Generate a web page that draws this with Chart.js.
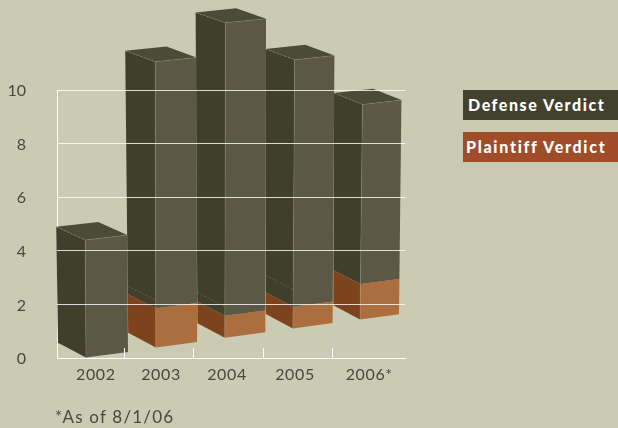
<!DOCTYPE html>
<html>
<head>
<meta charset="utf-8">
<title>Verdicts</title>
<script src="https://cdn.jsdelivr.net/npm/chart.js@4/dist/chart.umd.min.js"></script>
<style>
  html, body { margin: 0; padding: 0; background: #cbcbb3; }
  #wrap { position: relative; width: 618px; height: 428px; overflow: hidden; font-family: Lato, sans-serif; }
  #myChart { position: absolute; left: 0; top: 0; }
  .legend-item {
    position: absolute; left: 463px; width: 155px; height: 30px; line-height: 30px;
    box-sizing: border-box; color: #fff; font-weight: 900; font-size: 16px; white-space: nowrap;
  }
  #note { position: absolute; left: 55px; top: 406px; font-size: 17px; letter-spacing: 1.2px; color: #4a4740; white-space: nowrap; }
</style>
</head>
<body>
<div id="wrap">
  <canvas id="myChart" width="618" height="428"></canvas>
  <div id="legend"></div>
  <div id="note">*As of 8/1/06</div>
</div>
<script>
const years = ["2002", "2003", "2004", "2005", "2006*"];
const yTicks = [0, 2, 4, 6, 8, 10];
const plaintiffVerdicts = [0, 1.48, 0.84, 0.83, 1.34];
const defenseVerdicts = [4.4, 9.2, 10.93, 9.21, 6.7];

const legendColors = ["#42412d", "#a04c28"];
const legendTops = [90, 132];
const legendInsets = [5, 3];
const legendSpacing = ["1.55px", "1.7px"];

// faces: front (lit), side (shaded), top
const faces = [
    { front: "#ab6e3e", side: "#7c431d", top: "#7c431d" },
    { front: "#5b5945", side: "#403f2b", top: "#4c4b36" }
];

// the fake perspective: each year sits further back and a bit higher
function floorLift(i) { return 10.3 * i - 0.2 * i * i; }
function frontShift(i) { return 5.8 - 0.7 * i + 0.45 * i * i; }
function rightWidth(i) { return 42 - 0.75 * i; }
function leftWidth(i, y) { return 28 + (358 - y) * 0.008 - 0.4 * i; }
function leftRise(y) { return 10 + y * 0.0135; }
function rightRise(y) { return 4 + y * 0.004; }
// bars on the left lean left going up, bars on the right lean right
function lean(i, height) { return height * (i - 1.5) * 0.0045; }

const seamGap = [0, 8, 9, 17, 0];
const labelNudge = [4, -0.4, -4, -5.6, -1];

function poly(ctx, pts, color) {
    ctx.beginPath();
    pts.forEach(function (p, n) {
        if (n === 0) ctx.moveTo(p[0], p[1]); else ctx.lineTo(p[0], p[1]);
    });
    ctx.closePath();
    ctx.fillStyle = color;
    ctx.fill();
}

function edge(ctx, a, b, color, dash) {
    ctx.save();
    ctx.strokeStyle = color;
    ctx.lineWidth = 1;
    ctx.setLineDash(dash || []);
    ctx.beginPath();
    ctx.moveTo(a[0], a[1]);
    ctx.lineTo(b[0], b[1]);
    ctx.stroke();
    ctx.restore();
}

function drawBlock(ctx, el, i, face, isTop, floor) {
    const x = el.x - frontShift(i);
    const lift = floorLift(i);
    const yTop = el.y - lift;
    const yBot = el.base - lift;
    if (yBot - yTop < 0.5) return;

    const xTop = x + lean(i, floor - el.y);
    const xBot = x + lean(i, floor - el.base);
    const r = rightWidth(i);
    const fTop = [xTop, yTop], fBot = [xBot, yBot];
    const lTop = [xTop - leftWidth(i, yTop), yTop - leftRise(yTop)];
    const lBot = [xBot - leftWidth(i, yBot), yBot - leftRise(yBot)];
    const rTop = [xTop + r, yTop - rightRise(yTop)];
    const rBot = [xBot + r, yBot - rightRise(yBot)];

    poly(ctx, [lTop, fTop, fBot, lBot], face.side);
    poly(ctx, [fTop, rTop, rBot, fBot], face.front);
    edge(ctx, fTop, fBot, "rgba(255,255,255,0.12)");

    if (isTop) {
        const back = [lTop[0] + rTop[0] - xTop, lTop[1] + rTop[1] - yTop];
        poly(ctx, [lTop, back, rTop, fTop], face.top);
        edge(ctx, lTop, fTop, "rgba(255,255,255,0.16)", [2, 2]);
        edge(ctx, fTop, rTop, "rgba(255,255,255,0.1)");

        // thin seam a little above the plaintiff block, on the shaded side
        const gap = seamGap[i];
        if (gap) {
            edge(ctx, [lBot[0], lBot[1] - gap], [xBot, yBot - gap], "rgba(255,255,255,0.16)", [2, 2]);
        }
    }
}

const blocksPlugin = {
    id: "blocks",
    beforeDatasetsDraw: function (chart) {
        const ctx = chart.ctx;
        const area = chart.chartArea;
        ctx.save();
        // y axis line goes under the blocks, the 2002 block hides part of it
        edge(ctx, [area.left + 0.5, area.top], [area.left + 0.5, area.bottom], "#fff");
        for (let i = years.length - 1; i >= 0; i--) {
            chart.data.datasets.forEach(function (ds, d) {
                const el = chart.getDatasetMeta(d).data[i];
                drawBlock(ctx, el, i, faces[d], d === chart.data.datasets.length - 1, area.bottom);
            });
        }
        ctx.restore();
    },
    afterDraw: function (chart) {
        const ctx = chart.ctx;
        const bars = chart.getDatasetMeta(0).data;
        const bottom = chart.scales.y.getPixelForValue(0);
        ctx.save();
        ctx.strokeStyle = "#fff";
        ctx.lineWidth = 1;
        // short ticks pointing up between the years
        bars.slice(0, -1).forEach(function (el) {
            const x = Math.round(el.x + el.width / 2 - 3) + 0.5;
            ctx.beginPath();
            ctx.moveTo(x, bottom - 10);
            ctx.lineTo(x, bottom);
            ctx.stroke();
        });
        ctx.fillStyle = "#4a4740";
        ctx.font = "16px Lato, sans-serif";
        ctx.letterSpacing = "0.6px";
        ctx.textAlign = "center";
        ctx.textBaseline = "middle";
        bars.forEach(function (el, i) {
            ctx.fillText(years[i], el.x + labelNudge[i], 375);
        });
        ctx.restore();
    }
};

const datasets = [
    { label: "Plaintiff Verdict", data: plaintiffVerdicts, backgroundColor: "transparent" },
    { label: "Defense Verdict", data: defenseVerdicts, backgroundColor: "transparent" }
];

new Chart(document.getElementById("myChart").getContext("2d"), {
    type: "bar",
    data: { labels: years, datasets: datasets },
    plugins: [blocksPlugin],
    options: {
        responsive: false,
        animation: false,
        events: [],
        layout: { padding: { left: 0, right: 213, top: 90, bottom: 70 } },
        datasets: { bar: { categoryPercentage: 1, barPercentage: 1 } },
        plugins: { legend: { display: false }, tooltip: { enabled: false }, title: { display: false } },
        scales: {
            x: {
                stacked: true,
                afterFit: function (scale) { scale.height = 0; },
                grid: { display: false },
                ticks: { display: false },
                border: { color: "#fff", width: 1, z: 1 }
            },
            y: {
                stacked: true,
                min: 0,
                max: 10,
                afterFit: function (scale) { scale.width = 57; },
                afterBuildTicks: function (scale) {
                    scale.ticks = yTicks.map(function (v) { return { value: v }; });
                },
                grid: { color: "rgba(255,255,255,0.8)", lineWidth: 1, z: 1, drawTicks: false },
                border: { display: false },
                ticks: {
                    color: "#4a4740",
                    padding: 31,
                    labelOffset: 1,
                    font: { family: "Lato, sans-serif", size: 16 }
                }
            }
        }
    }
});

// legend boxes with the text inside them
const legendBox = document.getElementById("legend");
[datasets[1], datasets[0]].forEach(function (ds, n) {
    const item = document.createElement("div");
    item.className = "legend-item";
    item.style.top = legendTops[n] + "px";
    item.style.background = legendColors[n];
    item.style.paddingLeft = legendInsets[n] + "px";
    item.style.letterSpacing = legendSpacing[n];
    item.textContent = ds.label;
    legendBox.appendChild(item);
});
</script>
</body>
</html>
